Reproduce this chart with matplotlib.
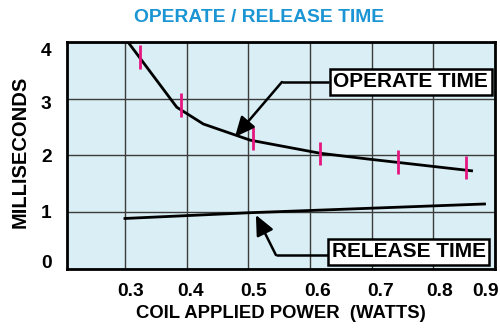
import matplotlib
matplotlib.use("Agg")
import matplotlib.pyplot as plt
from matplotlib.transforms import ScaledTranslation

plt.rcParams['font.family'] = ['Liberation Sans', 'DejaVu Sans']
plt.rcParams['font.weight'] = 'bold'

# ---- data ----
operate_x = [0.300, 0.384, 0.427, 0.503, 0.616, 0.692, 0.862]
operate_y = [4.07, 2.85, 2.555, 2.27, 2.04, 1.94, 1.73]
marker_x = [0.324, 0.391, 0.507, 0.616, 0.742, 0.853]
marker_lo = [3.52, 2.68, 2.10, 1.83, 1.67, 1.59]
marker_hi = [3.95, 3.10, 2.50, 2.24, 2.10, 1.99]
release_x = [0.30, 0.50, 0.883]
release_y = [0.89, 0.99, 1.145]
x_ticks = [0.3, 0.4, 0.5, 0.6, 0.7, 0.8, 0.9]
x_ticklabels = ['0.3', '0.4', '0.5', '0.6', '0.7', '0.8', '0.9']
y_ticks = [0, 1, 2, 3, 4]
y_ticklabels = ['0', '1', '2', '3', '4']

title = 'OPERATE / RELEASE TIME'
xlabel = 'COIL APPLIED POWER  (WATTS)'
ylabel = 'MILLISECONDS'

BG = '#d9eef5'
MAGENTA = '#e6157f'
TITLE_BLUE = '#1b95d3'

fig = plt.figure(figsize=(5.0, 3.28), dpi=100)
ax = fig.add_axes([0.134, 0.18, 0.856, 0.692])
ax.set_facecolor(BG)
ax.set_xlim(0.206, 0.9)
ax.set_ylim(0, 4)

ax.set_xticks(x_ticks)
ax.set_xticklabels(x_ticklabels)
ax.set_yticks(y_ticks)
ax.set_yticklabels(y_ticklabels)
ax.tick_params(axis='both', length=0, labelsize=13.8)
ax.tick_params(axis='x', pad=10)
ax.tick_params(axis='y', pad=11)
for lab in ax.get_xticklabels() + ax.get_yticklabels():
    lab.set_fontweight('bold')

# small label nudges (pixels) to mimic the reference placement
x_nudge_px = [6, 4, 5, 8, 9, 6, -9]
y_nudge_px = [7, 1, 0, -4, -8]
for lab, dx in zip(ax.get_xticklabels(), x_nudge_px):
    lab.set_transform(lab.get_transform() + ScaledTranslation(dx / 100, 0, fig.dpi_scale_trans))
for lab, dy in zip(ax.get_yticklabels(), y_nudge_px):
    lab.set_transform(lab.get_transform() + ScaledTranslation(0, dy / 100, fig.dpi_scale_trans))

ax.grid(True, color='#3c3c3c', linewidth=1.0)
ax.set_axisbelow(True)
for sp in ax.spines.values():
    sp.set_linewidth(2.0)
    sp.set_color('black')

# operate curve
ax.plot(operate_x, operate_y, color='black', lw=2.0, zorder=3, clip_on=True)
# magenta tick marks
ax.vlines(marker_x, marker_lo, marker_hi, color=MAGENTA, lw=2.0, zorder=4)
# release curve
ax.plot(release_x, release_y, color='black', lw=2.0, zorder=3)

# annotations
op_box = (0.7635, 3.295)
op_kink = (0.5545, 3.295)
op_start = (0.6306, 3.295)
op_tip = (0.4783, 2.326)
rel_box = (0.760, 0.30)
rel_kink = (0.5447, 0.2467)
rel_start = (0.629, 0.2467)
rel_tip = (0.5123, 0.9515)

box_kw = dict(boxstyle='square,pad=0.18', fc='white', ec='black', lw=1.8)
ax.text(*op_box, 'OPERATE TIME', ha='center', va='center', fontsize=15,
        fontweight='bold', bbox=box_kw, zorder=6)
ax.text(*rel_box, 'RELEASE TIME', ha='center', va='center', fontsize=15,
        fontweight='bold', bbox=box_kw, zorder=6)

arrow_kw = dict(arrowstyle='-|>,head_length=0.55,head_width=0.25', lw=1.8,
                color='black', mutation_scale=22, shrinkA=0, shrinkB=0)
for start, kink, tip in [(op_start, op_kink, op_tip), (rel_start, rel_kink, rel_tip)]:
    ax.plot([start[0], kink[0]], [start[1], kink[1]], color='black', lw=1.8, zorder=5,
            solid_capstyle='butt')
    ax.annotate('', xy=tip, xytext=kink, arrowprops=arrow_kw, zorder=5)

fig.text(0.518, 0.948, title, ha='center', va='center', fontsize=13.9,
         fontweight='bold', color=TITLE_BLUE)
fig.text(0.562, 0.043, xlabel, ha='center', va='center', fontsize=13.3,
         fontweight='bold')
fig.text(0.040, 0.537, ylabel, ha='center', va='center', fontsize=14.5,
         fontweight='bold', rotation=90)

fig.savefig('out.png', dpi=100)
